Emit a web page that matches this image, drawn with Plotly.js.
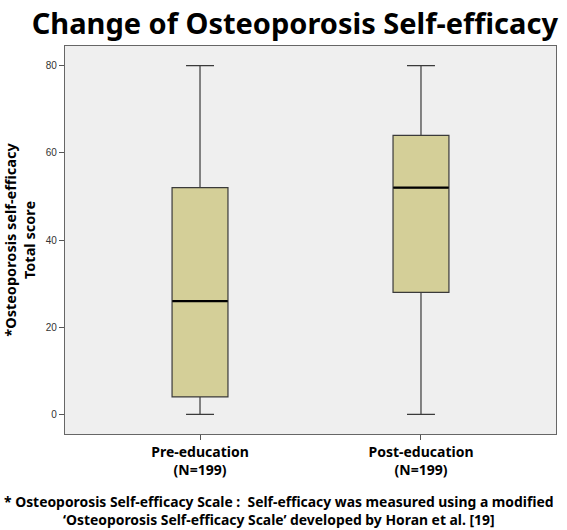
<!DOCTYPE html>
<html>
<head>
<meta charset="utf-8">
<script src="https://cdn.plot.ly/plotly-3.0.1.min.js"></script>
<style>html,body{margin:0;padding:0;background:#fff;}#chart{width:567px;height:530px;}</style>
</head>
<body>
<div id="chart"></div>
<script>
var groups = ["Pre-education<br>(N=199)", "Post-education<br>(N=199)"];
var minVals = [0, 0];
var q1Vals = [4, 28];
var medianVals = [26, 52];
var q3Vals = [52, 64];
var maxVals = [80, 80];
var yTicks = [0, 20, 40, 60, 80];

var FONT = "Noto Sans, Open Sans, sans-serif";

var box = {
  type: "box",
  x: groups,
  q1: q1Vals,
  median: medianVals,
  q3: q3Vals,
  lowerfence: minVals,
  upperfence: maxVals,
  width: 0.253,
  whiskerwidth: 0.5,
  fillcolor: "#d4cf98",
  line: {color: "#3a3a3a", width: 1.2},
  boxpoints: false,
  hoverinfo: "skip",
  showlegend: false
};

var medians = {
  type: "scatter",
  mode: "markers",
  x: groups,
  y: medianVals,
  marker: {symbol: "line-ew", size: 39.5, line: {color: "#000", width: 2.2}},
  hoverinfo: "skip",
  showlegend: false
};

var layout = {
  width: 567,
  height: 530,
  margin: {l: 65, r: 11, t: 46, b: 96},
  paper_bgcolor: "#ffffff",
  plot_bgcolor: "#efefef",
  title: {
    text: "Change of Osteoporosis Self-efficacy",
    font: {family: FONT, size: 29, color: "#000", weight: 700},
    x: 0.52, xanchor: "center", y: 0.975, yanchor: "top"
  },
  xaxis: {
    type: "category",
    range: [-0.611, 1.611],
    showline: true, mirror: true, linecolor: "#666", linewidth: 1.2,
    ticks: "outside", ticklen: 5, tickcolor: "#555",
    showgrid: false, zeroline: false,
    tickfont: {family: FONT, size: 14, color: "#000", weight: 700}
  },
  yaxis: {
    range: [-4.5, 84.5],
    tickvals: yTicks,
    ticktext: yTicks.map(String),
    showline: true, mirror: true, linecolor: "#666", linewidth: 1.2,
    ticks: "outside", ticklen: 5, tickcolor: "#555",
    showgrid: false, zeroline: false,
    tickfont: {family: "Liberation Sans, Arial, sans-serif", size: 10, color: "#333"},
    title: {
      text: "*Osteoporosis self-efficacy<br>Total score",
      font: {family: FONT, size: 14.5, color: "#000", weight: 700},
      standoff: 16
    }
  },
  annotations: [{
    xref: "paper", yref: "paper",
    x: 0.435, y: -0.145, xanchor: "center", yanchor: "top",
    showarrow: false, align: "center",
    text: "* Osteoporosis Self-efficacy Scale :  Self-efficacy was measured using a modified<br>‘Osteoporosis Self-efficacy Scale’ developed by Horan et al. [19]",
    font: {family: FONT, size: 13.9, color: "#000", weight: 700}
  }]
};

Plotly.newPlot("chart", [box, medians], layout, {displayModeBar: false, staticPlot: true});
</script>
</body>
</html>
